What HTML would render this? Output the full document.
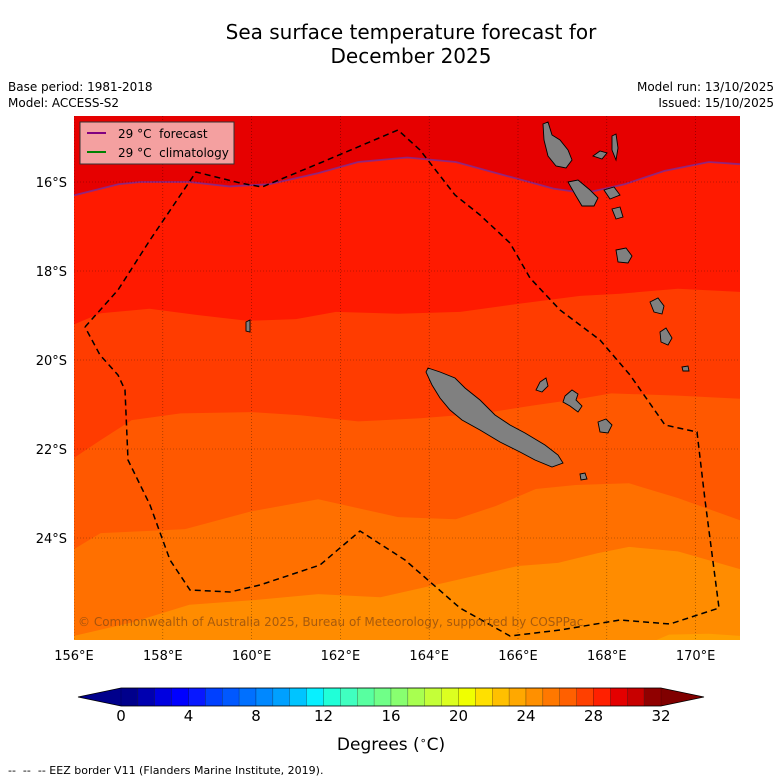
<!DOCTYPE html>
<html><head><meta charset="utf-8"><style>
body{margin:0;background:#fff;width:781px;height:781px;overflow:hidden;font-family:"Liberation Sans","DejaVu Sans",sans-serif}
svg{position:absolute;left:0;top:0}
</style></head><body>
<svg width="781" height="781" viewBox="0 0 781 781" font-family="DejaVu Sans, Liberation Sans, sans-serif">
<text x="411" y="39" text-anchor="middle" font-size="20">Sea surface temperature forecast for</text>
<text x="411" y="63" text-anchor="middle" font-size="20">December 2025</text>
<text x="8" y="91" font-size="12">Base period: 1981-2018</text>
<text x="8" y="107" font-size="12">Model: ACCESS-S2</text>
<text x="774" y="91" font-size="12" text-anchor="end">Model run: 13/10/2025</text>
<text x="774" y="107" font-size="12" text-anchor="end">Issued: 15/10/2025</text>
<defs><clipPath id="mc"><rect x="74" y="116" width="666" height="524"/></clipPath></defs>
<g id="map" clip-path="url(#mc)"></g>
<g id="axes"></g>
<g id="cbar"></g>
<text x="391" y="750" text-anchor="middle" font-size="17">Degrees (<tspan font-size="11" dy="-6">∘</tspan><tspan dy="6">C)</tspan></text>
<text x="8" y="774" font-size="11" xml:space="preserve">--  --  -- EEZ border V11 (Flanders Marine Institute, 2019).</text>
</svg>
<script>
const NS="http://www.w3.org/2000/svg";
const lonTicks=[156,158,160,162,164,166,168,170];
const latTicks=[16,18,20,22,24];
const cbTicks=[0,4,8,12,16,20,24,28,32];
const cbColors=["#00008c","#0000b0","#0000e0","#0000ff","#0818ff","#0040ff","#0058ff","#0070ff","#0088ff","#00a0ff","#00c4ff","#08f0ff","#20ffd8","#40ffc0","#58ffa0","#70ff88","#88ff70","#a8ff50","#c4ff38","#dcff20","#f0ff00","#ffe000","#ffc000","#ffa800","#ff9000","#ff7800","#ff6000","#ff4000","#ff2000","#e40000","#c80000","#900000"];
const c29=[[156,16.3],[157,16.05],[157.5,16],[158.6,16],[159.5,16.1],[160.4,16.05],[161.5,15.8],[162.4,15.55],[163.5,15.45],[164.6,15.55],[165.7,15.85],[166.8,16.15],[167.5,16.25],[168.4,16.05],[169.3,15.75],[170.3,15.55],[171,15.6]];
const c28=[[156,19.2],[156.6,18.95],[157.7,18.85],[158.8,18.99],[159.9,19.12],[161,19.08],[161.9,18.92],[163.3,18.96],[164.7,18.92],[166,18.74],[167.4,18.56],[168.3,18.51],[169.6,18.4],[171,18.47]];
const c27=[[156,22.2],[156.6,21.8],[157.3,21.35],[158.4,21.2],[160,21.17],[161.1,21.24],[162.4,21.38],[163.8,21.31],[165.2,21.2],[166.3,21.03],[167.4,20.87],[168.1,20.75],[169.6,20.8],[171,20.87]];
const c26=[[156,24.25],[156.6,23.89],[157.7,23.84],[158.5,23.8],[160,23.4],[161.5,23.13],[163.3,23.53],[164.6,23.58],[165.5,23.28],[166.4,22.9],[167.3,22.81],[168.5,22.77],[169.6,23.1],[171,23.6]];
const c25=[[156,26.2],[157.3,25.9],[158.6,25.5],[160,25.4],[161.5,25.26],[162.9,25.33],[164.2,25.04],[166,24.63],[166.9,24.56],[167.8,24.34],[168.5,24.2],[169.6,24.3],[171,24.7]];
const c24=[[169.1,26.3],[169.4,26.17],[170.3,26.15],[171,26.2]];
const bandVals=[29.5,28.5,27.5,26.5,25.5,24.5,23.5];
const X=lon=>74+(lon-156)*44.4;
const Y=lat=>182+(lat-16)*44.5;
const CB=v=>121+v*16.875;
function el(t,a,p){const e=document.createElementNS(NS,t);for(const k in a)e.setAttribute(k,a[k]);p.appendChild(e);return e;}
const map=document.getElementById('map');
function colorFor(v){return {29.5:"#e60000",28.5:"#ff1a00",27.5:"#ff3c00",26.5:"#ff5800",25.5:"#ff7000",24.5:"#ff8c00",23.5:"#ffa000"}[v];}
const bounds=[c29,c28,c27,c26,c25,c24];
let r=el('rect',{x:74,y:116,width:666,height:524,fill:colorFor(bandVals[0])},map);


bounds.forEach((b,i)=>{
  let d='M'+b.map(p=>X(p[0]).toFixed(1)+','+Y(p[1]).toFixed(1)).join(' L')+` L${X(b[b.length-1][0])},700 L${X(b[0][0])},700 Z`;
  const p=el('path',{d:d,fill:colorFor(bandVals[i+1])},map);
  
  
});
const ln=el('polyline',{points:c29.map(p=>X(p[0])+','+Y(p[1])).join(' '),fill:'none',stroke:'#7a2a9a','stroke-width':1.8,opacity:0.8},map);


lonTicks.forEach(t=>{const g=el('line',{x1:X(t),x2:X(t),y1:116,y2:640,stroke:'#000','stroke-width':0.6,'stroke-dasharray':'1,2',opacity:0.5},map);

});
latTicks.forEach(t=>{const g=el('line',{x1:74,x2:740,y1:Y(t),y2:Y(t),stroke:'#000','stroke-width':0.6,'stroke-dasharray':'1,2',opacity:0.5},map);

});
const lands=[
"428,368 440,372 455,378 465,388 480,400 495,415 510,425 525,433 545,445 558,455 563,463 552,467 535,460 520,452 500,442 480,430 462,420 450,410 440,398 432,385 426,372",
"565,396 572,390 578,394 576,400 582,406 578,412 570,406 563,402",
"598,422 606,419 612,425 608,433 600,432",
"543,124 548,122 552,135 560,140 568,150 572,160 566,168 556,166 548,156 544,140",
"568,182 578,180 590,190 598,198 594,206 582,206 576,196",
"612,136 616,134 618,148 616,160 612,150",
"593,156 600,151 607,153 602,159",
"604,190 614,187 620,195 610,199",
"612,209 620,207 623,217 616,219",
"616,250 626,248 632,256 628,263 618,262",
"650,302 658,298 664,306 662,314 654,312",
"660,332 666,328 672,338 668,345 661,342",
"682,367 688,366 689,371 683,371",
"246,322 250,320 250,332 246,331",
"540,382 546,378 548,386 542,392 536,390",
"580,474 585,473 587,479 581,480"];
lands.forEach((pts,i)=>{const p=el('polygon',{points:pts,fill:'#808080',stroke:'#000','stroke-width':0.9},map);

});
const eez=el('polyline',{points:"85,327 118,290 150,240 196,172 240,183 262,187 320,163 398,130 420,150 455,195 480,215 510,243 530,278 560,310 600,340 630,375 665,425 697,432 705,500 719,608 670,624 620,620 560,630 510,636 460,608 405,560 360,531 320,565 260,585 230,592 190,590 170,560 150,505 128,460 125,390 118,375 100,355 85,327",fill:'none',stroke:'#000','stroke-width':1.5,'stroke-dasharray':'6,4'},map);


const lg=el('g',{},map);


el('rect',{x:80,y:122,width:154,height:42,fill:'#f4a0a0',stroke:'#333','stroke-width':1},lg);
el('line',{x1:87,x2:106,y1:133,y2:133,stroke:'#800080','stroke-width':2},lg);
el('line',{x1:87,x2:106,y1:152,y2:152,stroke:'#008000','stroke-width':2},lg);
let t1=el('text',{x:118,y:138,'font-size':12},lg);t1.textContent='29 °C\u00a0 forecast';
let t2=el('text',{x:118,y:157,'font-size':12},lg);t2.textContent='29 °C\u00a0 climatology';
let cp=el('text',{x:78,y:626,'font-size':12,fill:'#8a4a10','fill-opacity':0.75},map);
cp.textContent='© Commonwealth of Australia 2025, Bureau of Meteorology, supported by COSPPac';


const ax=document.getElementById('axes');
lonTicks.forEach(t=>{const e=el('text',{x:X(t),y:660,'font-size':13,'text-anchor':'middle'},ax);e.textContent=t+'°E';

});
latTicks.forEach(t=>{const e=el('text',{x:67,y:Y(t)+5,'font-size':13,'text-anchor':'end'},ax);e.textContent=t+'°S';

});
const cb=document.getElementById('cbar');
const lt=el('polygon',{points:`${CB(0)},688 ${CB(0)},706 78,697`,fill:'#00008c'},cb);


const rt=el('polygon',{points:`${CB(32)},688 ${CB(32)},706 704,697`,fill:'#800000'},cb);


cbColors.forEach((c,i)=>{const e=el('rect',{x:CB(i),y:688,width:16.875,height:18,fill:c,stroke:'#000','stroke-width':0.4,'stroke-opacity':0.5},cb);

});
el('polygon',{points:`78,697 ${CB(0)},688 ${CB(32)},688 704,697 ${CB(32)},706 ${CB(0)},706`,fill:'none',stroke:'#000','stroke-width':0.8},cb);
cbTicks.forEach(t=>{const e=el('text',{x:CB(t),y:721,'font-size':15,'text-anchor':'middle'},cb);e.textContent=t;

});
</script>
</body></html>
